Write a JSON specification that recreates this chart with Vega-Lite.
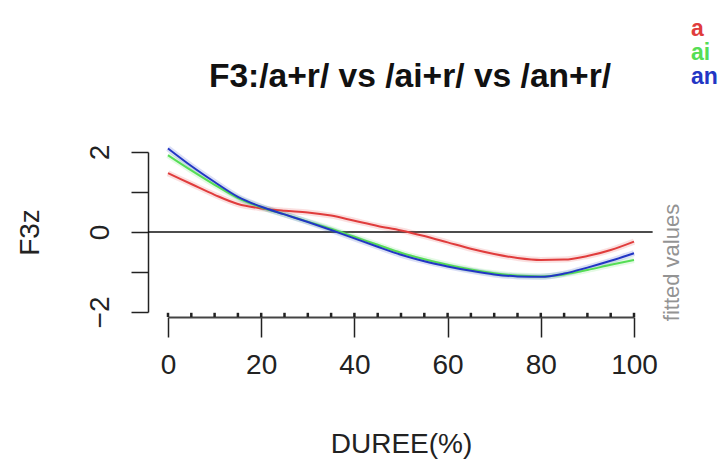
{
  "$schema": "https://vega.github.io/schema/vega-lite/v6.json",
  "width": 466,
  "height": 160,
  "autosize": {"type": "none"},
  "padding": {"left": 168, "top": 152, "right": 90, "bottom": 147},
  "background": "white",
  "config": {
    "view": {"stroke": null},
    "font": "Liberation Sans"
  },
  "title": {
    "text": "F3:/a+r/ vs /ai+r/ vs /an+r/",
    "font": "Liberation Sans",
    "fontSize": 33.6,
    "fontWeight": "bold",
    "color": "#111111",
    "anchor": "middle",
    "frame": "group",
    "baseline": "alphabetic",
    "offset": -104,
    "dx": 9
  },
  "datasets": {
    "curves": [
      {"x": 0, "y": 1.47, "g": "a"}, {"x": 5, "y": 1.20, "g": "a"}, {"x": 10, "y": 0.93, "g": "a"},
      {"x": 15, "y": 0.70, "g": "a"}, {"x": 20, "y": 0.59, "g": "a"}, {"x": 25, "y": 0.53, "g": "a"},
      {"x": 30, "y": 0.49, "g": "a"}, {"x": 35, "y": 0.41, "g": "a"}, {"x": 40, "y": 0.28, "g": "a"},
      {"x": 45, "y": 0.15, "g": "a"}, {"x": 50, "y": 0.04, "g": "a"}, {"x": 55, "y": -0.10, "g": "a"},
      {"x": 60, "y": -0.26, "g": "a"}, {"x": 65, "y": -0.42, "g": "a"}, {"x": 70, "y": -0.55, "g": "a"},
      {"x": 75, "y": -0.65, "g": "a"}, {"x": 80, "y": -0.70, "g": "a"}, {"x": 85, "y": -0.69, "g": "a"},
      {"x": 90, "y": -0.60, "g": "a"}, {"x": 95, "y": -0.45, "g": "a"}, {"x": 100, "y": -0.24, "g": "a"},
      {"x": 0, "y": 1.92, "g": "ai"}, {"x": 5, "y": 1.54, "g": "ai"}, {"x": 10, "y": 1.18, "g": "ai"},
      {"x": 15, "y": 0.85, "g": "ai"}, {"x": 20, "y": 0.62, "g": "ai"}, {"x": 25, "y": 0.44, "g": "ai"},
      {"x": 30, "y": 0.26, "g": "ai"}, {"x": 35, "y": 0.08, "g": "ai"}, {"x": 40, "y": -0.12, "g": "ai"},
      {"x": 45, "y": -0.32, "g": "ai"}, {"x": 50, "y": -0.52, "g": "ai"}, {"x": 55, "y": -0.68, "g": "ai"},
      {"x": 60, "y": -0.82, "g": "ai"}, {"x": 65, "y": -0.94, "g": "ai"}, {"x": 70, "y": -1.03, "g": "ai"},
      {"x": 75, "y": -1.09, "g": "ai"}, {"x": 80, "y": -1.11, "g": "ai"}, {"x": 85, "y": -1.06, "g": "ai"},
      {"x": 90, "y": -0.95, "g": "ai"}, {"x": 95, "y": -0.82, "g": "ai"}, {"x": 100, "y": -0.70, "g": "ai"},
      {"x": 0, "y": 2.09, "g": "an"}, {"x": 5, "y": 1.65, "g": "an"}, {"x": 10, "y": 1.25, "g": "an"},
      {"x": 15, "y": 0.88, "g": "an"}, {"x": 20, "y": 0.63, "g": "an"}, {"x": 25, "y": 0.44, "g": "an"},
      {"x": 30, "y": 0.25, "g": "an"}, {"x": 35, "y": 0.05, "g": "an"}, {"x": 40, "y": -0.16, "g": "an"},
      {"x": 45, "y": -0.37, "g": "an"}, {"x": 50, "y": -0.57, "g": "an"}, {"x": 55, "y": -0.73, "g": "an"},
      {"x": 60, "y": -0.86, "g": "an"}, {"x": 65, "y": -0.97, "g": "an"}, {"x": 70, "y": -1.06, "g": "an"},
      {"x": 75, "y": -1.11, "g": "an"}, {"x": 80, "y": -1.12, "g": "an"}, {"x": 85, "y": -1.04, "g": "an"},
      {"x": 90, "y": -0.89, "g": "an"}, {"x": 95, "y": -0.72, "g": "an"}, {"x": 100, "y": -0.53, "g": "an"}
    ],
    "minor": [
      {"x": 0}, {"x": 5}, {"x": 10}, {"x": 15}, {"x": 20}, {"x": 25}, {"x": 30},
      {"x": 35}, {"x": 40}, {"x": 45}, {"x": 50}, {"x": 55}, {"x": 60}, {"x": 65},
      {"x": 70}, {"x": 75}, {"x": 80}, {"x": 85}, {"x": 90}, {"x": 95}, {"x": 100}
    ],
    "zero": [{"x": -4.3, "x2": 104, "y": 0}]
  },
  "resolve": {"axis": {"y": "independent"}},
  "layer": [
    {
      "data": {"name": "zero"},
      "mark": {"type": "rule", "color": "#111111", "strokeWidth": 1.5},
      "encoding": {
        "x": {"field": "x", "type": "quantitative", "scale": {"domain": [0, 100], "nice": false, "zero": false}},
        "x2": {"field": "x2"},
        "y": {
          "field": "y", "type": "quantitative",
          "scale": {"domain": [-2, 2], "nice": false, "zero": false},
          "axis": {
            "orient": "right", "domain": false, "ticks": false, "labels": false, "grid": false,
            "title": "fitted values", "titleColor": "#939393", "titleFontSize": 22,
            "titleFontWeight": "normal", "titleFont": "Liberation Sans", "titleAngle": -90,
            "titlePadding": 49, "titleY": 110
          }
        }
      }
    },
    {
      "data": {"name": "curves"},
      "mark": {"type": "line", "strokeWidth": 6, "opacity": 0.16, "interpolate": "monotone"},
      "encoding": {
        "x": {"field": "x", "type": "quantitative"},
        "y": {"field": "y", "type": "quantitative", "axis": null},
        "color": {"field": "g", "type": "nominal", "scale": {"domain": ["a", "ai", "an"], "range": ["#E03C3C", "#55DD55", "#2236C4"]}}
      }
    },
    {
      "data": {"name": "curves"},
      "mark": {"type": "line", "strokeWidth": 2, "interpolate": "monotone"},
      "encoding": {
        "x": {
          "field": "x", "type": "quantitative",
          "axis": {
            "orient": "bottom", "values": [0, 20, 40, 60, 80, 100], "offset": 5, "grid": false,
            "domainColor": "#444444", "domainWidth": 2, "tickColor": "#222222", "tickWidth": 1.5, "tickSize": 20,
            "labelFontSize": 28, "labelFont": "Liberation Sans", "labelColor": "#222222", "labelPadding": 14,
            "labelFlush": false, "labelOverlap": false,
            "title": "DUREE(%)", "titleFontSize": 28, "titleFont": "Liberation Sans", "titleFontWeight": "normal",
            "titleColor": "#222222", "titlePadding": 51
          }
        },
        "y": {
          "field": "y", "type": "quantitative",
          "axis": {
            "orient": "left", "values": [-2, -1, 0, 1, 2], "offset": 20, "grid": false,
            "labelExpr": "datum.value % 2 === 0 ? datum.label : ''",
            "domainColor": "#222222", "domainWidth": 1.5, "tickColor": "#222222", "tickWidth": 1.5, "tickSize": 17,
            "labelAngle": -90, "labelAlign": "center", "labelBaseline": "alphabetic", "labelPadding": 23,
            "labelFontSize": 28, "labelFont": "Liberation Sans", "labelColor": "#222222", "labelFlush": false,
            "title": "F3z", "titleFontSize": 28, "titleFont": "Liberation Sans", "titleFontWeight": "normal",
            "titleColor": "#222222", "titlePadding": 42
          }
        },
        "color": {
          "field": "g", "type": "nominal",
          "legend": {
            "orient": "none", "legendX": 500, "legendY": -135, "title": null, "padding": 0,
            "symbolSize": 0, "symbolStrokeWidth": 0, "symbolType": "circle", "labelOffset": 0, "rowPadding": -3,
            "labelFontSize": 23, "labelFontWeight": "bold", "labelFont": "Liberation Sans",
            "encode": {"labels": {"update": {"fill": {"scale": "color", "field": "value"}}}}
          }
        }
      }
    },
    {
      "data": {"name": "minor"},
      "mark": {"type": "rule", "color": "#222222", "strokeWidth": 2.5},
      "encoding": {
        "x": {"field": "x", "type": "quantitative"},
        "y": {"datum": -2.02, "type": "quantitative", "axis": null},
        "y2": {"datum": -2.125}
      }
    }
  ]
}
